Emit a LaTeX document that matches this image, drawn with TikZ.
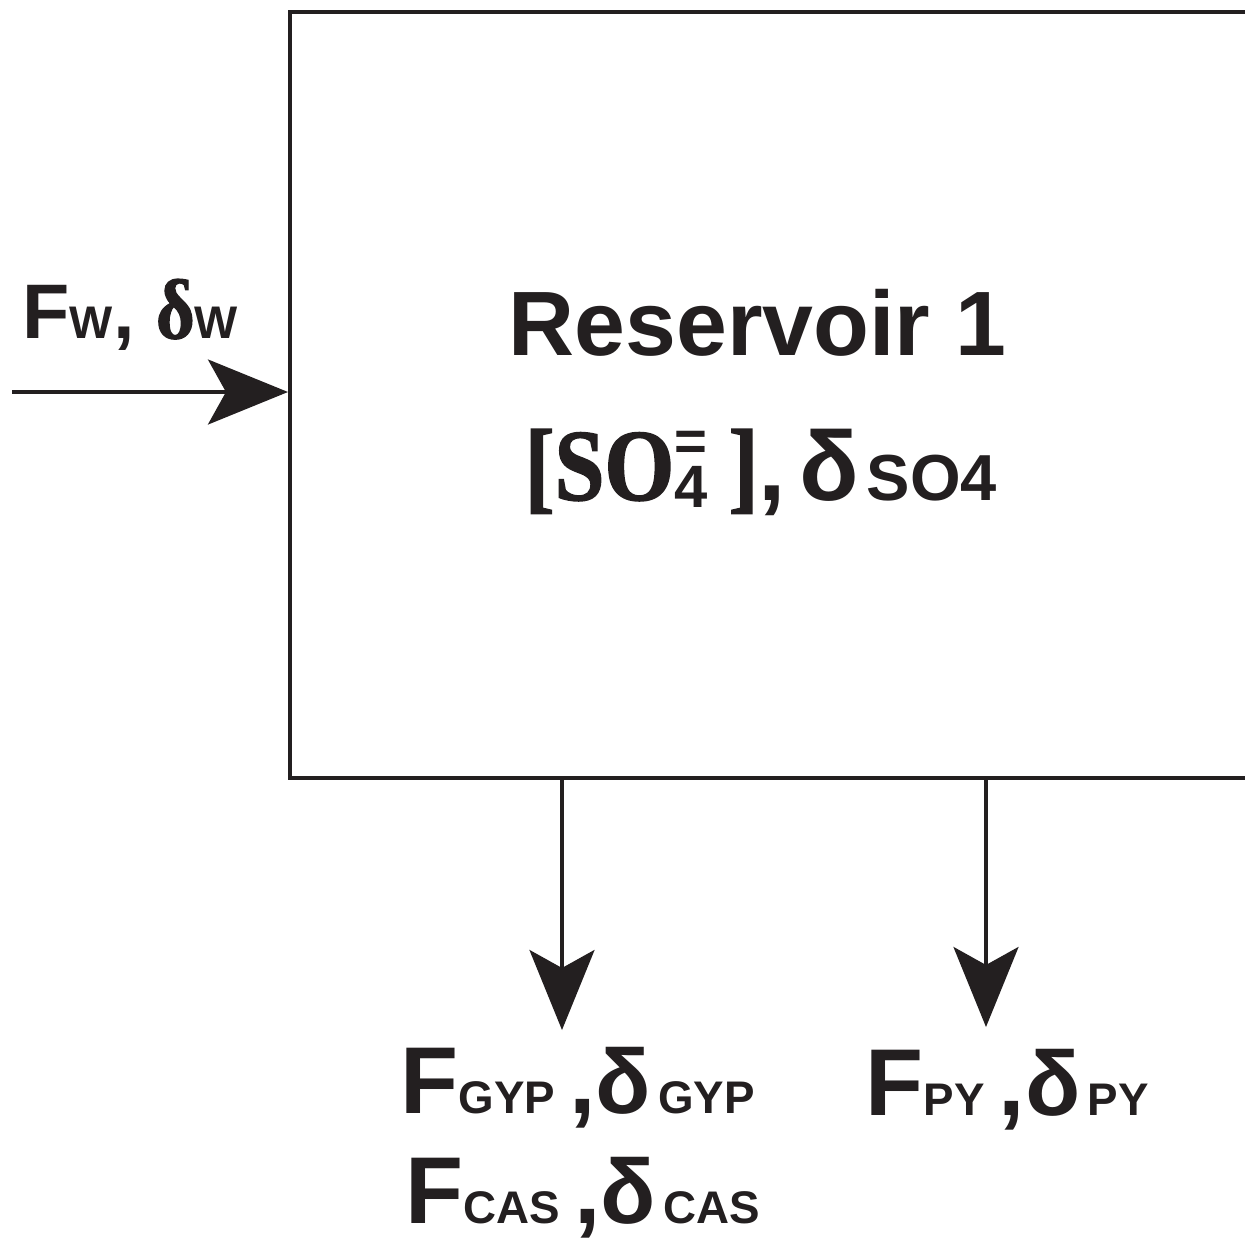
\documentclass[tikz,border=0pt]{standalone}
\usepackage{fontspec}
\setmainfont{Liberation Sans}
\newfontfamily\timesfam{Liberation Serif}[FakeStretch=0.88,FakeBold=1.5]
\usetikzlibrary{positioning,arrows.meta}
\definecolor{ink}{RGB}{35,31,32}
\newcommand{\setpt}[1]{\fontsize{#1}{#1}\selectfont}
\tikzset{
  tank/.style={draw=ink,line width=1.1pt,minimum width=12cm,minimum height=7.66cm,inner sep=0pt},
  lbl/.style={text=ink,font=\bfseries,inner sep=0pt,anchor=base west},
  flow/.style={draw=ink,line width=0.9pt,-{Stealth[length=0.8cm,width=0.65cm,inset=0.18cm]}},
}
\begin{document}
\begin{tikzpicture}[x=0.01cm,y=-0.01cm]
  \useasboundingbox (0,0) rectangle (1245,1245);
  \clip (0,0) rectangle (1245,1245);
  % reservoir box, open to the right
  \node[tank,anchor=north west] (res) at (288,10) {};
  \node[lbl] (title) at (508,355) {\setpt{26}Reservoir 1};
  \node[lbl] (conc) at (524,500) {{\timesfam\setpt{29}[SO}\raisebox{-2pt}{\shortstack{{\setpt{16}=}\\[-1.5pt]{\setpt{17}4}}}\hspace{6pt}{\timesfam\setpt{29}]}{\setpt{28},}\hspace{4pt}{\setpt{28}δ}\hspace{2pt}{\setpt{18.5}SO4}};
  % inflow
  \node[lbl] (fw) at (22,338) {\setpt{22}F{\setpt{13}W}, {\timesfam\setpt{24}δ}{\setpt{13}W}};
  \coordinate (win) at (12,392);
  \draw[flow] (win) -- (win -| res.west);
  % outflows
  \coordinate (gypend) at (562,1030);
  \coordinate (pyend) at (986,1027);
  \draw[flow] (res.south -| gypend) -- (gypend);
  \draw[flow] (res.south -| pyend) -- (pyend);
  \node[lbl] (gyp) at (400,1113) {\setpt{27}F{\setpt{13}GYP}\hspace{4pt},{\setpt{26}δ}\hspace{2pt}{\setpt{13}GYP}};
  \node[lbl] (cas) at (405,1223) {\setpt{27}F{\setpt{13}CAS}\hspace{4pt},{\setpt{26}δ}\hspace{2pt}{\setpt{13}CAS}};
  \node[lbl] (py) at (865,1115) {\setpt{27}F{\setpt{13}PY}\hspace{4pt},{\setpt{26}δ}\hspace{2pt}{\setpt{13}PY}};
\end{tikzpicture}
\end{document}
